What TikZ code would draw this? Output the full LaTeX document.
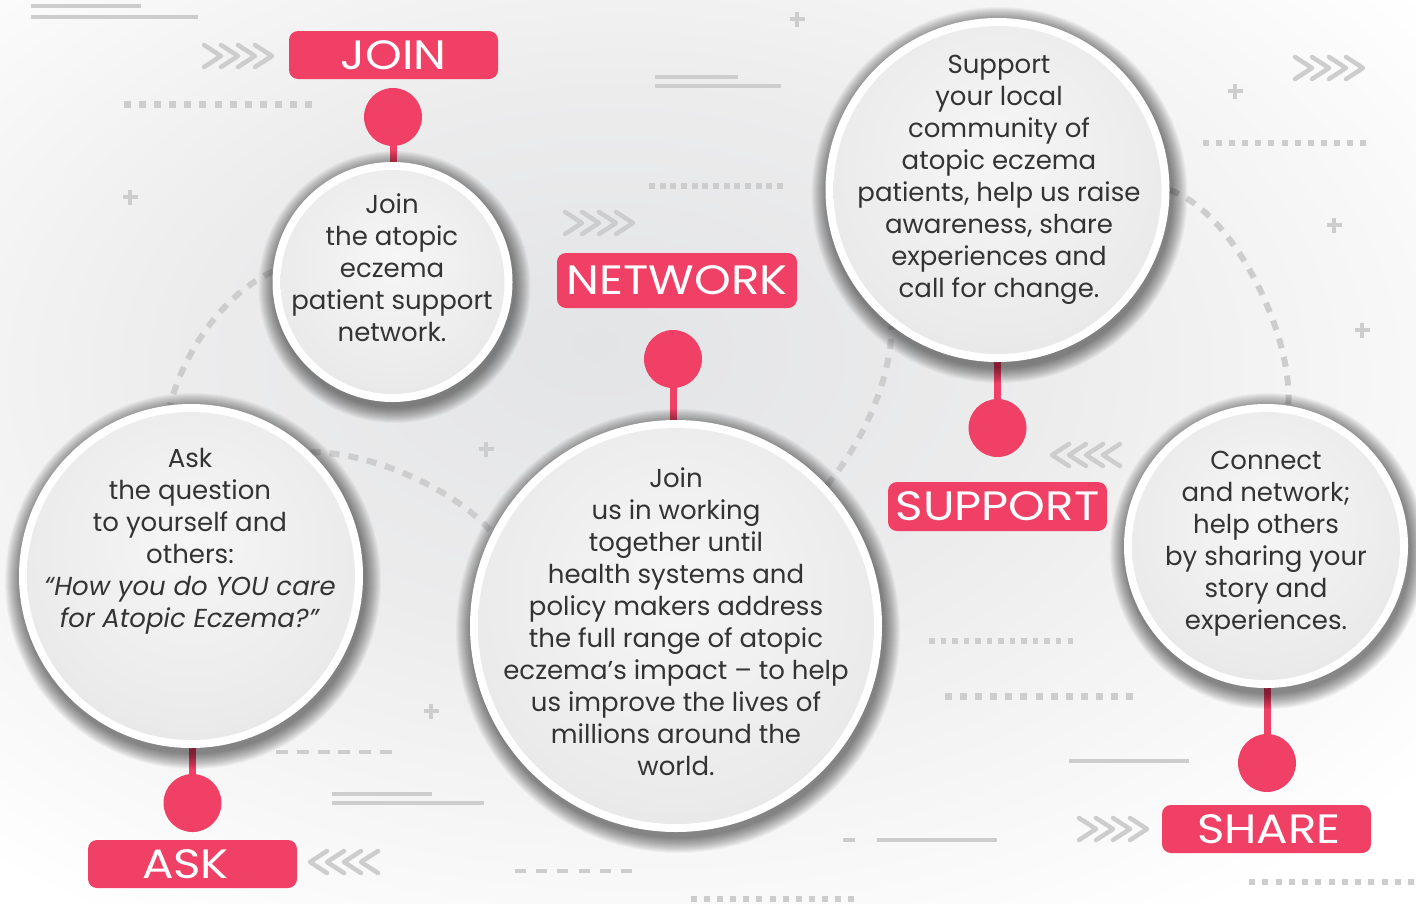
\documentclass[tikz,border=0pt]{standalone}
\usepackage{fontspec}
\setmainfont{Poppins}
\newfontfamily\tagfont{Poppins}[FakeStretch=1.14]
\usetikzlibrary{calc}
\definecolor{pinkc}{RGB}{240,64,101}
\definecolor{deco}{RGB}{205,205,205}
\definecolor{txt}{RGB}{51,51,51}
\definecolor{bgc}{RGB}{227,228,230}
\definecolor{bgc2}{RGB}{236,236,237}
\definecolor{ballc}{RGB}{246,246,246}
\definecolor{ballm}{RGB}{235,235,235}
\definecolor{balle}{RGB}{216,216,216}
\pgfdeclareradialshading{bgshade}{\pgfpoint{-4bp}{6bp}}{color(0bp)=(bgc); color(15bp)=(bgc2); color(35bp)=(white); color(80bp)=(white)}
\pgfdeclareradialshading{ballshade}{\pgfpoint{0bp}{6bp}}{color(0bp)=(ballc); color(25bp)=(ballm); color(50bp)=(balle); color(60bp)=(balle)}
\pgfdeclarelayer{decolayer}
\pgfdeclarelayer{stemlayer}
\pgfdeclarelayer{shadowlayer}
\pgfsetlayers{decolayer,stemlayer,shadowlayer,main}
\tikzset{
 bubble/.style={circle, fill=white, inner sep=0pt, draw=none},
 pinball/.style={circle, fill=pinkc, inner sep=0pt, minimum size=58pt},
 tag/.style={rounded corners=9pt, fill=pinkc, text=white, inner sep=0pt, font=\tagfont\fontsize{41}{41}\selectfont},
 body/.style={align=center, text=txt, font=\fontsize{26}{32}\selectfont, inner sep=0pt},
 stem/.style={draw=pinkc, line width=7pt},
 arcline/.style={draw=deco, line width=6pt, dash pattern=on 10pt off 9pt},
 decoline/.style={draw=deco, line width=4pt},
 chev/.style={draw=deco, line width=4.5pt, line cap=round, line join=round},
}
\newcommand\chevR[2]{\foreach \i in {0,...,3}{\draw[chev] ({#1+2+\i*17},{#2-11}) -- ({#1+19+\i*17},#2) -- ({#1+2+\i*17},{#2+11});}}
\newcommand\chevL[2]{\foreach \i in {0,...,3}{\draw[chev] ({#1+19+\i*17},{#2-11}) -- ({#1+2+\i*17},#2) -- ({#1+19+\i*17},{#2+11});}}
\newcommand\plusmark[2]{\draw[draw=deco, line width=3.5pt] ({#1-7.5},#2) -- ({#1+7.5},#2) (#1,{#2-7.5}) -- (#1,{#2+7.5});}
\newcommand\sqrow[5]{\pgfmathsetmacro\sqpitch{(#2-#1-#4)/(#5-1)}%
 \foreach \i in {1,...,#5}{\fill[deco] ({#1+(\i-1)*\sqpitch},{#3-#4/2}) rectangle ({#1+(\i-1)*\sqpitch+#4},{#3+#4/2});}}
\newcommand\dashrow[5]{\pgfmathsetmacro\sqpitch{(#2-#1-#4)/(#5-1)}%
 \foreach \i in {1,...,#5}{\fill[deco] ({#1+(\i-1)*\sqpitch},{#3-2}) rectangle ({#1+(\i-1)*\sqpitch+#4},{#3+2});}}
\newcommand\mybubble[4]{%
 \node[bubble, minimum size={2*#4*1pt}] (#1) at (#2,#3) {};
 \shade[shading=ballshade] (#1.center) circle[radius={(#4-8)*1pt}];
 \begin{pgfonlayer}{shadowlayer}
 \foreach \k in {0,...,15}{\fill[black, opacity=0.036] ($(#1.center)+(2,5)$) circle[radius={(#4+16-\k)*1pt}];}
 \end{pgfonlayer}}
\begin{document}
\begin{tikzpicture}[x=1pt,y=-1pt]
\useasboundingbox (0,0) rectangle (1416,903);
\begin{pgfonlayer}{decolayer}
\shade[shading=bgshade] (0,0) rectangle (1416,903);
% lines
\draw[decoline] (31,6) -- (141,6) (31,17) -- (198,17);
\draw[decoline] (655,77) -- (738,77) (655,86) -- (781,86);
\draw[decoline] (332,794) -- (432,794) (332,803) -- (484,803);
\draw[decoline] (1069,761) -- (1189,761);
\draw[decoline] (877,840) -- (997,840) (843,840) -- (855,840);
\dashrow{276}{392}{752}{12}{6}
\dashrow{515}{632}{871}{11}{6}
% square rows
\sqrow{124}{312}{104}{7}{13}
\sqrow{649}{783}{186}{6}{13}
\sqrow{1203}{1366}{143}{6}{13}
\sqrow{929}{1073}{641}{5.5}{13}
\sqrow{945}{1133}{696}{7}{13}
\sqrow{691}{854}{899}{6}{13}
\sqrow{1249}{1414}{882}{6}{13}
% chevrons
\chevR{202}{56}
\chevR{563}{223}
\chevR{1293}{68}
\chevR{1077}{829}
\chevL{1050}{455}
\chevL{308}{862}
% plus signs
\plusmark{797}{19}
\plusmark{130}{197}
\plusmark{1235}{91}
\plusmark{1334}{225}
\plusmark{1362}{330}
\plusmark{486}{449}
\plusmark{431}{711}
\end{pgfonlayer}

% bubbles
\mybubble{jc}{392.5}{282}{120}
\mybubble{sc}{997.5}{190}{172}
\mybubble{nc}{676}{626}{206}
\mybubble{ac}{191}{576}{172}
\mybubble{shc}{1266}{546}{142}

% dashed arcs
\begin{pgfonlayer}{decolayer}
\draw[arcline] (jc.175) .. controls +(-50,23) and +(14,-53) .. (ac.97);
\draw[arcline] (ac.46) .. controls +(60,0) and +(-40,-45) .. (nc.153);
\draw[arcline] (nc.43) .. controls +(35,-42) and +(0,55) .. (sc.232);
\draw[arcline] (sc.0) .. controls +(65,23) and +(5,-70) .. (shc.81);
\end{pgfonlayer}

% pins
\node[pinball] (jp) at (393,117) {};
\node[pinball] (np) at (673,359) {};
\node[pinball] (sp) at (997.5,428) {};
\node[pinball] (ap) at (192.5,803) {};
\node[pinball] (shp) at (1267,763) {};
\begin{pgfonlayer}{stemlayer}
\draw[stem] (jp.center) -- (jp.center |- jc.north);
\draw[stem] (np.center) -- (np.center |- nc.north);
\draw[stem] (sp.center) -- (sp.center |- sc.south);
\draw[stem] (ap.center) -- (ap.center |- ac.south);
\draw[stem] (shp.center) -- (shp.center |- shc.south);
\end{pgfonlayer}

% tags
\node[tag, minimum width=209pt, minimum height=48pt] (jl) at (393.5,55) {JOIN};
\node[tag, minimum width=240pt, minimum height=55pt] (nl) at (677,280.5) {NETWORK};
\node[tag, minimum width=219pt, minimum height=49pt] (sl) at (997.5,506.5) {SUPPORT};
\node[tag, minimum width=209pt, minimum height=48pt] (al) at (192.5,864) {ASK\hspace*{14pt}};
\node[tag, minimum width=209pt, minimum height=48pt] (shl) at (1266.5,829) {\hspace*{5pt}SHARE};

% texts
\node[body] (jt) at (392,268) {Join\\the atopic\\eczema\\patient support\\network.};
\node[body] (st) at (999,180) {Support\\your local\\community of\\atopic eczema\\patients, help us raise\\awareness, share\\experiences and\\call for change.};
\node[body] (at) at (190,541) {Ask\\the question\\to yourself and\\others:\\\textit{“How you do YOU care}\\\textit{for Atopic Eczema?”}};
\node[body] (nt) at (676,622) {Join\\us in working\\together until\\health systems and\\policy makers address\\the full range of atopic\\eczema’s impact – to help\\us improve the lives of\\millions around the\\world.};
\node[body] (sht) at (1266,544) {Connect\\and network;\\help others\\by sharing your\\story and\\experiences.};
\end{tikzpicture}
\end{document}
